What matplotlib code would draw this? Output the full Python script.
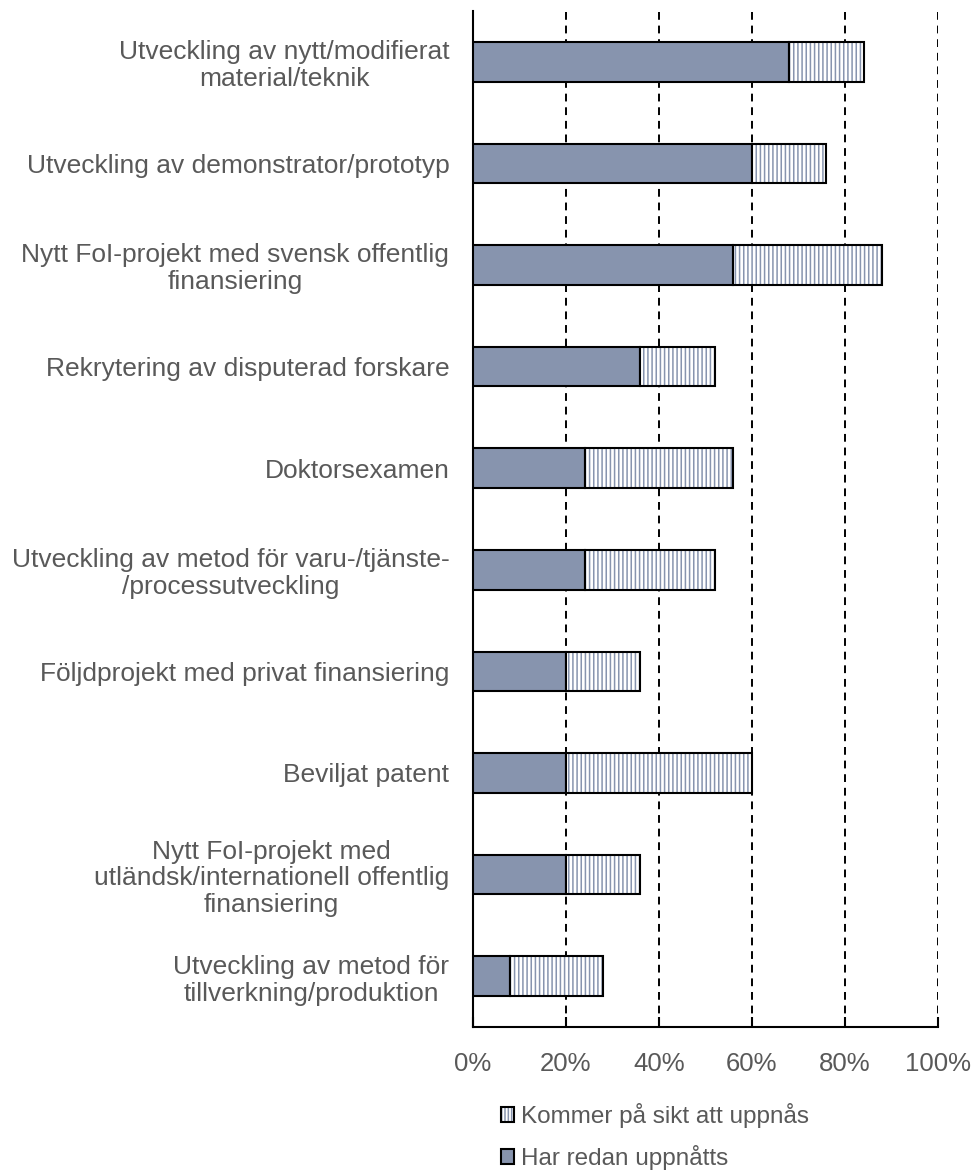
import matplotlib
matplotlib.use("Agg")
import matplotlib.pyplot as plt
from matplotlib.patches import Patch
from matplotlib.legend_handler import HandlerTuple
from matplotlib.ticker import PercentFormatter

categories = [
    "Utveckling av nytt/modifierat\nmaterial/teknik",
    "Utveckling av demonstrator/prototyp",
    "Nytt FoI-projekt med svensk offentlig\nfinansiering",
    "Rekrytering av disputerad forskare",
    "Doktorsexamen",
    "Utveckling av metod för varu-/tjänste-\n/processutveckling",
    "Följdprojekt med privat finansiering",
    "Beviljat patent",
    "Nytt FoI-projekt med\nutländsk/internationell offentlig\nfinansiering",
    "Utveckling av metod för\ntillverkning/produktion",
]
har_redan = [68, 60, 56, 36, 24, 24, 20, 20, 20, 8]
kommer = [16, 16, 32, 16, 32, 28, 16, 40, 16, 20]

dark = "#8794ae"
text_grey = "#595959"

plt.rcParams["font.family"] = ["Liberation Sans", "DejaVu Sans"]
plt.rcParams["hatch.linewidth"] = 1.1

fig = plt.figure(figsize=(9.73, 11.71), dpi=100)
ax = fig.add_axes([0.486, 0.123, 0.478, 0.8676])

y = list(range(len(categories)))
h = 0.39

ax.barh(y, har_redan, height=h, color=dark, edgecolor="black", linewidth=1.5, zorder=3)
ax.barh(y, kommer, left=har_redan, height=h, color="white", edgecolor=dark,
        hatch="||||", linewidth=0, zorder=3)
ax.barh(y, kommer, left=har_redan, height=h, fill=False, edgecolor="black",
        linewidth=1.5, zorder=4)

ax.set_ylim(len(categories) - 0.5, -0.5)
ax.set_xlim(0, 100)
ax.set_xticks([0, 20, 40, 60, 80, 100])
ax.xaxis.set_major_formatter(PercentFormatter(decimals=0))
ax.set_yticks(y)
ax.set_yticklabels(categories, multialignment="center", linespacing=1.15)

for v in [20, 40, 60, 80, 100]:
    ax.axvline(v, color="black", linewidth=1.4, linestyle=(0, (4, 3)), zorder=1)

for s in ["top", "right"]:
    ax.spines[s].set_visible(False)
for s in ["left", "bottom"]:
    ax.spines[s].set_linewidth(1.5)
    ax.spines[s].set_color("black")

ax.tick_params(axis="x", direction="in", length=7, width=1.5, pad=18,
               labelsize=18.5, labelcolor=text_grey)
ax.tick_params(axis="y", length=0, pad=17, labelsize=19, labelcolor=text_grey)

p_hatch = Patch(facecolor="white", edgecolor=dark, hatch="|||||", linewidth=0)
p_outline = Patch(fill=False, edgecolor="black", linewidth=1.5)
p_dark = Patch(facecolor=dark, edgecolor="black", linewidth=1.5)
leg = fig.legend(handles=[(p_hatch, p_outline), p_dark],
                 labels=["Kommer på sikt att uppnås", "Har redan uppnåtts"],
                 handler_map={tuple: HandlerTuple(ndivide=1)},
                 loc="upper left", bbox_to_anchor=(0.515, 0.058),
                 frameon=False, fontsize=17.5, handlelength=0.55, handleheight=0.55,
                 handletextpad=0.25, labelspacing=0.7, borderpad=0, borderaxespad=0)
for t in leg.get_texts():
    t.set_color(text_grey)

fig.savefig("out.png", dpi=100)
